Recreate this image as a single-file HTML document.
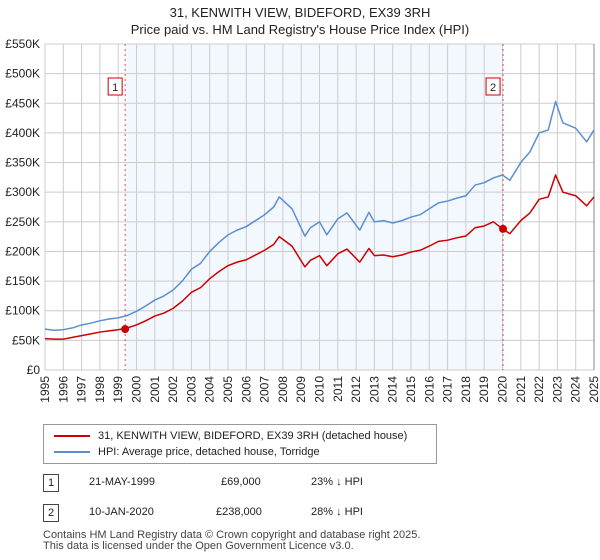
<!DOCTYPE html>
<html><head><meta charset="utf-8"><style>
body{margin:0;background:#fff;font-family:"Liberation Sans","DejaVu Sans",sans-serif;}
#wrap{position:relative;width:600px;height:560px;overflow:hidden}
</style></head><body><div id="wrap">
<svg id="chart" width="600" height="560" font-family="Liberation Sans, DejaVu Sans, sans-serif">
<text x="300" y="17" text-anchor="middle" font-size="13" fill="#222">31, KENWITH VIEW, BIDEFORD, EX39 3RH</text>
<text x="300" y="34" text-anchor="middle" font-size="13" fill="#222">Price paid vs. HM Land Registry's House Price Index (HPI)</text>
<g id="grid"></g><g id="marks"></g>
</svg>
<div style="position:absolute;left:43px;top:424px;width:392px;height:38px;border:1px solid #999;font-size:11px;color:#222">
<div style="position:absolute;left:10px;top:5px"><span style="display:inline-block;width:36px;height:2px;background:#cc0000;vertical-align:middle;margin-right:8px"></span>31, KENWITH VIEW, BIDEFORD, EX39 3RH (detached house)</div>
<div style="position:absolute;left:10px;top:21px"><span style="display:inline-block;width:36px;height:2px;background:#5b8fd0;vertical-align:middle;margin-right:8px"></span>HPI: Average price, detached house, Torridge</div>
</div>
<div style="position:absolute;top:474px;left:43px;font-size:11px;color:#222">
<span style="position:absolute;left:0;top:0;width:14px;height:16px;border:1px solid #444;text-align:center;line-height:16px">1</span>
<span style="position:absolute;left:46px;top:2px;white-space:nowrap">21-MAY-1999</span>
<span style="position:absolute;left:178px;top:2px">£69,000</span>
<span style="position:absolute;left:268px;top:2px;white-space:nowrap">23% ↓ HPI</span></div>
<div style="position:absolute;top:504px;left:43px;font-size:11px;color:#222">
<span style="position:absolute;left:0;top:0;width:14px;height:16px;border:1px solid #444;text-align:center;line-height:16px">2</span>
<span style="position:absolute;left:46px;top:2px;white-space:nowrap">10-JAN-2020</span>
<span style="position:absolute;left:173px;top:2px">£238,000</span>
<span style="position:absolute;left:268px;top:2px;white-space:nowrap">28% ↓ HPI</span></div>
<div style="position:absolute;top:530px;left:43px;font-size:11px;color:#444;line-height:11px">Contains HM Land Registry data © Crown copyright and database right 2025.<br>This data is licensed under the Open Government Licence v3.0.</div>
</div>
<script>
const years=[1995,1995.5,1996,1996.5,1997,1997.5,1998,1998.5,1999,1999.5,2000,2000.5,2001,2001.5,2002,2002.5,2003,2003.5,2004,2004.5,2005,2005.5,2006,2006.5,2007,2007.5,2007.8,2008.5,2009.2,2009.5,2010,2010.4,2011,2011.5,2012.2,2012.7,2013,2013.5,2014,2014.5,2015,2015.5,2016,2016.5,2017,2017.5,2018,2018.5,2019,2019.5,2020,2020.4,2021,2021.5,2022,2022.5,2022.9,2023.3,2024,2024.6,2025];
const hpi=[69,67,68,71,76,79,83,86,88,92,99,108,118,125,135,150,170,180,200,215,228,236,242,252,262,275,292,272,226,240,250,228,255,265,236,266,250,252,248,252,258,262,272,282,285,290,294,312,316,324,329,320,350,368,400,405,453,417,408,385,405];
const price=[53,52,52,55,58,61,64,66,68,71,76,83,91,96,104,116,131,139,154,166,176,182,186,194,202,212,225,209,174,185,193,176,196,204,182,205,193,194,191,194,199,202,209,217,219,223,226,240,243,250,238,230,252,265,288,292,329,300,294,277,292];
const saleYears=[1999.38,2020.03];
const salePrices=[69,238];
const yTicks=[0,50,100,150,200,250,300,350,400,450,500,550];
const yTickLabels=["£0","£50K","£100K","£150K","£200K","£250K","£300K","£350K","£400K","£450K","£500K","£550K"];
const xTicks=[1995,1996,1997,1998,1999,2000,2001,2002,2003,2004,2005,2006,2007,2008,2009,2010,2011,2012,2013,2014,2015,2016,2017,2018,2019,2020,2021,2022,2023,2024,2025];
const X0=45,X1=594,Y0=370,Y1=44;
const xs=y=>X0+(y-1995)/30*(X1-X0);
const ys=v=>Y0-v/550*(Y0-Y1);
const NS="http://www.w3.org/2000/svg";
const grid=document.getElementById('grid'),marks=document.getElementById('marks');
function mk(p,tag,a){const e=document.createElementNS(NS,tag);for(const k in a)e.setAttribute(k,a[k]);p.appendChild(e);return e;}
const sh=mk(grid,'rect',{x:xs(saleYears[0]),y:Y1,width:xs(saleYears[1])-xs(saleYears[0]),height:Y0-Y1,fill:'#eef3fd',opacity:0.7});


yTicks.forEach((t,i)=>{
 const l=mk(grid,'line',{x1:X0,x2:X1,y1:ys(t),y2:ys(t),stroke:'#cccccc'});
 
 
 const tx=mk(grid,'text',{x:40,y:ys(t)+4,'text-anchor':'end','font-size':12,fill:'#222'});
 tx.textContent=yTickLabels[i];
 
 
});
xTicks.forEach(t=>{
 const l=mk(grid,'line',{x1:xs(t),x2:xs(t),y1:Y1,y2:Y0,stroke:'#cccccc'});
 
 
 const px=xs(t)+4,py=376;
 const tx=mk(grid,'text',{x:px,y:py,'text-anchor':'end','font-size':12,fill:'#222',transform:'rotate(-90 '+px+' '+py+')'});
 tx.textContent=t;
 
 
});
const endLine=mk(grid,'line',{x1:X1,x2:X1,y1:Y1,y2:Y0,stroke:'#888'});


const line=(arr,c,n)=>{const p=mk(marks,'polyline',{points:arr.map((v,i)=>xs(years[i])+','+ys(v)).join(' '),fill:'none',stroke:c,'stroke-width':1.5,'stroke-linejoin':'round'});
 
 };
line(hpi,'#5b8fd0','hpi-line');
line(price,'#cc0000','price-paid-line');
saleYears.forEach((y,i)=>{
 const v=mk(marks,'line',{x1:xs(y),x2:xs(y),y1:Y1,y2:Y0,stroke:'#e05050','stroke-dasharray':'2,3'});
 
 
 const d=mk(marks,'circle',{cx:xs(y),cy:ys(salePrices[i]),r:4,fill:'#cc0000'});
 
 
 const b=mk(marks,'rect',{x:xs(y)-17,y:78,width:14,height:17,fill:'#fff',stroke:'#cc0000'});
 
 
 const t=mk(marks,'text',{x:xs(y)-10,y:91,'text-anchor':'middle','font-size':11,fill:'#222'});
 t.textContent=String(i+1);
 
 
});
</script>
</body></html>
